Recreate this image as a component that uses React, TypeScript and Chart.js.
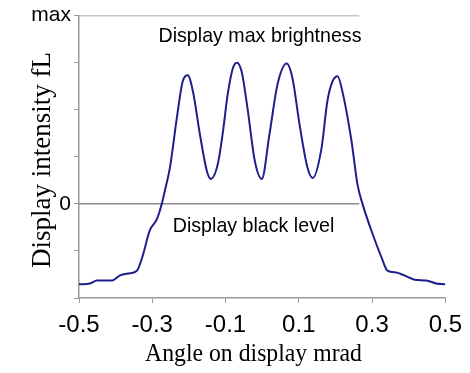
import React, { useEffect, useRef } from "react";
import { Chart, registerables } from "chart.js";

Chart.register(...registerables);

// Angle on display (mrad)
const ANGLES = [
  -0.5, -0.47, -0.451, -0.41, -0.388, -0.366, -0.342, -0.326, -0.307, -0.287,
  -0.274, -0.266, -0.252, -0.233, -0.217, -0.203, -0.189, -0.17, -0.151, -0.14,
  -0.121, -0.108, -0.094, -0.08, -0.069, -0.056, -0.04, -0.02, -0.001, 0.02,
  0.042, 0.067, 0.083, 0.102, 0.124, 0.138, 0.162, 0.178, 0.192, 0.206,
  0.219, 0.244, 0.26, 0.274, 0.301, 0.326, 0.342, 0.366, 0.388, 0.416,
  0.448, 0.475, 0.5,
];
// Display intensity (scale units: 0 = black level, 4 = max)
const INTENSITY = [
  -1.71, -1.69, -1.63, -1.63, -1.52, -1.48, -1.42, -1.1, -0.57, -0.32,
  0, 0.27, 0.76, 1.82, 2.6, 2.73, 2.39, 1.48, 0.7, 0.53,
  0.85, 1.48, 2.33, 2.88, 3.0, 2.81, 2.03, 0.91, 0.53, 1.48,
  2.54, 2.98, 2.66, 1.69, 0.76, 0.55, 1.18, 2.18, 2.6, 2.71,
  2.39, 1.33, 0.42, 0, -0.63, -1.14, -1.42, -1.46, -1.52, -1.61,
  -1.63, -1.69, -1.71,
];

const X_TICKS = [-0.5, -0.3, -0.1, 0.1, 0.3, 0.5];
const Y_MIN = -2;
const Y_MAX = 4;
const Y_TICK_LABELS: Record<number, string> = { 4: "max", 0: "0" };

// reference levels
const MAX_LEVEL = 4;
const BLACK_LEVEL = 0;
const LEVEL_LINE_START = -0.5;
const LEVEL_LINE_END = 0.265;

const LABEL_MAX = "Display max brightness";
const LABEL_BLACK = "Display black level";
const X_TITLE = "Angle on display mrad";
const Y_TITLE = "Display intensity fL";

const textPlugin = {
  id: "texts",
  afterDraw(chart: any) {
    const ctx = chart.ctx as CanvasRenderingContext2D;
    ctx.save();
    ctx.fillStyle = "#000";
    ctx.textAlign = "center";
    ctx.textBaseline = "alphabetic";

    // annotations
    ctx.font = '21px "Liberation Sans", Arial, sans-serif';
    ctx.save();
    ctx.translate(260, 41.5);
    ctx.scale(0.935, 1);
    ctx.fillText(LABEL_MAX, 0, 0);
    ctx.restore();

    ctx.save();
    ctx.translate(253.5, 231.5);
    ctx.scale(0.935, 1);
    ctx.fillText(LABEL_BLACK, 0, 0);
    ctx.restore();

    // x title
    ctx.font = '26px "Liberation Serif", "Times New Roman", serif';
    ctx.save();
    ctx.translate(253.5, 361);
    ctx.scale(0.913, 1);
    ctx.fillText(X_TITLE, 0, 0);
    ctx.restore();

    // y title
    ctx.font = '27px "Liberation Serif", "Times New Roman", serif';
    ctx.save();
    ctx.translate(50, 160);
    ctx.rotate(-Math.PI / 2);
    ctx.fillText(Y_TITLE, 0, 0);
    ctx.restore();

    ctx.restore();
  },
};

export default function App() {
  const ref = useRef<HTMLCanvasElement>(null);

  useEffect(() => {
    if (!ref.current) return;
    const curve = ANGLES.map((x, i) => ({ x, y: INTENSITY[i] }));
    const chart = new Chart(ref.current, {
      type: "line",
      data: {
        datasets: [
          {
            data: curve,
            borderColor: "#1e1e8c",
            borderWidth: 2,
            pointRadius: 0,
            cubicInterpolationMode: "monotone",
            fill: false,
          },
          {
            data: [
              { x: LEVEL_LINE_START, y: MAX_LEVEL },
              { x: LEVEL_LINE_END, y: MAX_LEVEL },
            ],
            borderColor: "#8c8c8c",
            borderWidth: 1.5,
            pointRadius: 0,
            fill: false,
          },
          {
            data: [
              { x: LEVEL_LINE_START, y: BLACK_LEVEL },
              { x: LEVEL_LINE_END, y: BLACK_LEVEL },
            ],
            borderColor: "#8c8c8c",
            borderWidth: 1.5,
            pointRadius: 0,
            fill: false,
          },
        ],
      },
      options: {
        responsive: false,
        animation: false,
        layout: { padding: { top: 14, right: 24, bottom: 0, left: 0 } },
        plugins: {
          legend: { display: false },
          tooltip: { enabled: false },
        },
        scales: {
          x: {
            type: "linear",
            min: -0.5,
            max: 0.5,
            afterBuildTicks: (scale: any) => {
              scale.ticks = X_TICKS.map((v) => ({ value: v }));
            },
            afterFit: (scale: any) => {
              scale.height = 75;
            },
            grid: {
              drawOnChartArea: false,
              drawTicks: true,
              tickLength: 5,
              color: "#999",
            },
            border: { color: "#999", width: 1.5 },
            ticks: {
              autoSkip: false,
              maxRotation: 0,
              padding: 8,
              color: "#000",
              font: { family: '"Liberation Sans", Arial, sans-serif', size: 24 },
              callback: (v: any) => Number(v).toFixed(1),
            },
          },
          y: {
            type: "linear",
            min: Y_MIN,
            max: Y_MAX,
            afterFit: (scale: any) => {
              scale.width = 79;
            },
            grid: {
              drawOnChartArea: false,
              drawTicks: true,
              tickLength: 5,
              color: "#999",
            },
            border: { color: "#999", width: 1.5 },
            ticks: {
              stepSize: 1,
              padding: 3,
              color: "#000",
              font: { family: '"Liberation Sans", Arial, sans-serif', size: 21 },
              callback: (v: any) => Y_TICK_LABELS[Number(v)] ?? "",
            },
          },
        },
      },
      plugins: [textPlugin],
    } as any);
    return () => chart.destroy();
  }, []);

  return (
    <div style={{ position: "fixed", left: 0, top: 0, width: 470, height: 373, background: "#fff" }}>
      <canvas ref={ref} width={470} height={373} style={{ display: "block" }} />
    </div>
  );
}
